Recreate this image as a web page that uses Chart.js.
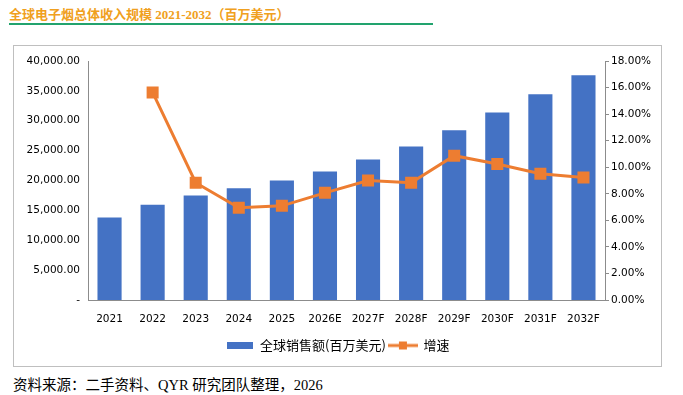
<!DOCTYPE html>
<html>
<head>
<meta charset="utf-8">
<script src="https://cdn.jsdelivr.net/npm/chart.js@4.4.1/dist/chart.umd.min.js"></script>
<style>
  html, body { margin: 0; padding: 0; background: #fff; width: 683px; height: 395px; overflow: hidden; }
  #title { position: absolute; left: 9px; top: 4px; font: 700 13px "Liberation Serif", "Noto Sans CJK SC", serif; color: #F0A020; white-space: nowrap; }
  #rule { position: absolute; left: 9px; top: 23px; width: 424px; height: 0; border-top: 2px solid #22A36E; }
  #box { position: absolute; left: 13px; top: 45px; width: 647px; height: 320px; border: 1px solid #BFBFBF; }
  #chart { position: absolute; left: 0; top: 0; }
  #footer { position: absolute; left: 13px; top: 373px; font: 14.5px "Liberation Serif", "Noto Sans CJK SC", serif; color: #000; white-space: nowrap; }
</style>
</head>
<body>
<div id="title">全球电子烟总体收入规模 2021-2032（百万美元）</div>
<div id="rule"></div>
<div id="box"><canvas id="chart" width="647" height="320"></canvas></div>
<div id="footer">资料来源：二手资料、QYR 研究团队整理，2026</div>
<script>
const categories = ['2021','2022','2023','2024','2025','2026E','2027F','2028F','2029F','2030F','2031F','2032F'];
const sales = [13800, 15950, 17480, 18700, 20000, 21500, 23500, 25700, 28400, 31400, 34450, 37600];
const growth = [null, 15.63, 8.83, 6.94, 7.09, 8.07, 9.00, 8.83, 10.87, 10.24, 9.51, 9.23];
const salesLabel = '全球销售额(百万美元)';
const growthLabel = '增速';

const BLUE = '#4472C4';
const ORANGE = '#ED7D31';

function makeBarIcon() {
  const c = document.createElement('canvas');
  c.width = 26; c.height = 7;
  const x = c.getContext('2d');
  x.fillStyle = BLUE; x.fillRect(0, 0, 26, 7);
  return c;
}
function makeLineIcon() {
  const c = document.createElement('canvas');
  c.width = 30; c.height = 10;
  const x = c.getContext('2d');
  x.strokeStyle = ORANGE; x.lineWidth = 3;
  x.beginPath(); x.moveTo(0, 5); x.lineTo(30, 5); x.stroke();
  x.fillStyle = ORANGE; x.fillRect(11, 1, 8, 8);
  return c;
}
const barIcon = makeBarIcon();
const lineIcon = makeLineIcon();

const tickFont = { family: '"DejaVu Sans", Verdana, sans-serif', size: 10.5 };

new Chart(document.getElementById('chart'), {
  type: 'bar',
  data: {
    labels: categories,
    datasets: [
      {
        type: 'line', label: growthLabel, data: growth, yAxisID: 'y1',
        borderColor: ORANGE, backgroundColor: ORANGE, borderWidth: 3,
        pointStyle: 'rect', pointRadius: 8.5, pointBorderWidth: 0,
        pointBackgroundColor: ORANGE, tension: 0, spanGaps: false, order: 0
      },
      {
        type: 'bar', label: salesLabel, data: sales, yAxisID: 'y',
        backgroundColor: BLUE, barPercentage: 0.56, categoryPercentage: 1.0, order: 1
      }
    ]
  },
  options: {
    responsive: false,
    animation: false,
    layout: { padding: { top: 15, left: 0, right: 0, bottom: 4 } },
    plugins: {
      tooltip: { enabled: false },
      legend: {
        position: 'bottom',
        labels: {
          usePointStyle: true, pointStyleWidth: 28, padding: 3,
          font: { family: '"Noto Sans CJK SC", sans-serif', size: 13 },
          color: '#000',
          generateLabels: () => [
            { text: salesLabel, pointStyle: barIcon, fillStyle: BLUE, strokeStyle: BLUE, lineWidth: 0, hidden: false, datasetIndex: 1 },
            { text: growthLabel, pointStyle: lineIcon, fillStyle: ORANGE, strokeStyle: ORANGE, lineWidth: 0, hidden: false, datasetIndex: 0 }
          ]
        }
      }
    },
    scales: {
      x: {
        grid: { display: false, drawTicks: false },
        border: { display: true, color: '#8C8C8C', width: 1 },
        ticks: { font: tickFont, color: '#000', padding: 13, maxRotation: 0, autoSkip: false },
        afterFit: s => { s.height = 36; }
      },
      y: {
        position: 'left', min: 0, max: 40000,
        grid: { display: false, drawTicks: false },
        border: { display: true, color: '#8C8C8C', width: 1 },
        ticks: {
          stepSize: 5000, font: tickFont, color: '#000', padding: 8,
          callback: v => v === 0 ? '-' : v.toLocaleString('en-US', { minimumFractionDigits: 2, maximumFractionDigits: 2 })
        },
        afterFit: s => { s.width = 74; }
      },
      y1: {
        position: 'right', min: 0, max: 18,
        grid: { display: true, drawOnChartArea: false, drawTicks: true, tickLength: 4, color: '#8C8C8C' },
        border: { display: true, color: '#8C8C8C', width: 1 },
        ticks: {
          stepSize: 2, font: tickFont, color: '#000', padding: 2,
          callback: v => v.toFixed(2) + '%'
        },
        afterFit: s => { s.width = 56; }
      }
    }
  }
});
</script>
</body>
</html>
